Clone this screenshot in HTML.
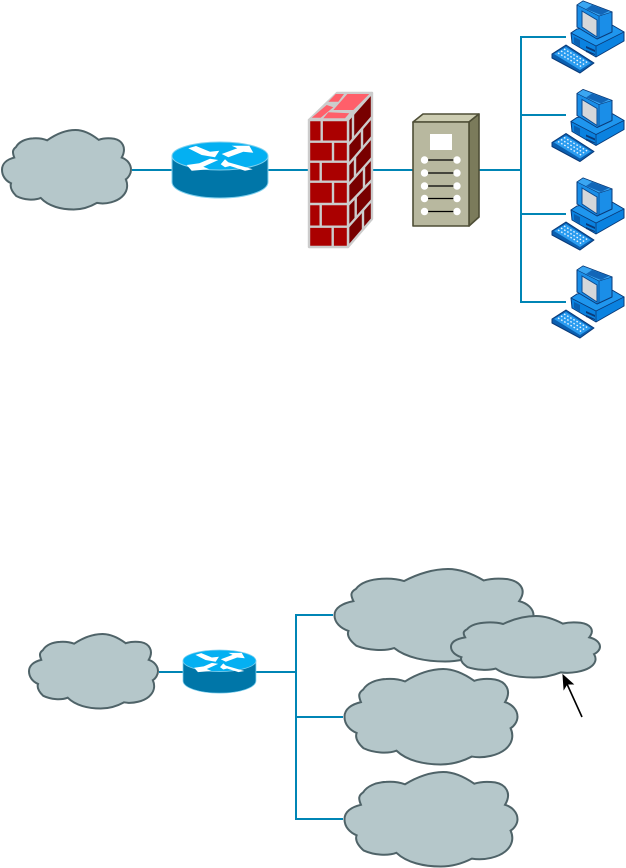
<!DOCTYPE html>
<html>
<head>
<meta charset="utf-8">
<style>
html,body{margin:0;padding:0;background:#fff;}
svg{display:block;position:absolute;left:0;top:0;}
</style>
</head>
<body>
<svg width="626" height="868" viewBox="0 0 626 868" xmlns="http://www.w3.org/2000/svg">
<defs>
  <path id="c" vector-effect="non-scaling-stroke" fill="#b5c7ca" stroke="#4f6368" stroke-width="2" d="M9.5,34.7 C8,28 8,25 10.8,21.5 C13,15 18,11 24,10.5 C28,10 32,11 35,13 C42,5 50,0 57,0 C64,0 70,6 75,12.4 C79,10 83,10 87,11 C93,13 97,22 92.8,34.7 C97,37 100,43 100,50 C100,55 98,60 96,62 C98,70 97,78 93,84 C89,90 81,94 73.6,91.7 C68,97 62,100 55.6,100 C46,100 36,96 30,85.5 C25,89 17,88 11,83 C8,78 6,72 7,67 C3,64 0,58 0,50 C0,42 4,37 9.5,34.7 Z"/>
  <g id="r">
    <path d="M0,14 V40 C0,49 21,56 48,56 C75,56 96,49 96,40 V14 Z" fill="#0076a8" stroke="#7fd0ee" stroke-width="1"/>
    <ellipse cx="48" cy="14" rx="48" ry="14" fill="#04b0f2" stroke="#7fd0ee" stroke-width="1"/>
    <g fill="#fff">
      <path d="M16.300,6.300 L24,4 L38,9.700 L47.300,8.700 L43,15.300 L29.700,13 Z"/>
      <path d="M49.700,12 L65.300,6.300 L59.700,3.700 L77.300,3.700 L81.300,10.700 L71.300,9.700 L56.300,15.300 Z"/>
      <path d="M14.700,23 L27.300,21.300 L38,16.700 L46.300,18 L31.300,24.700 L37.300,27.300 L19.700,28.700 Z"/>
      <path d="M48.700,22.300 L53,17.300 L56.300,20.300 L80.700,27.300 L73,28.700 L58,24 L53,25.300 Z"/>
    </g>
  </g>
  <g id="p">
    <path d="M571,33 L577,29 L612,25 L624,32 L624,41 L596,57 L572,43 Z" fill="#0a82e0" stroke="#0a3a78" stroke-width="1" stroke-linejoin="round"/>
    <path d="M571,33 L596,46 L624,32 L612,25 L577,29 Z" fill="#1f96ee" stroke="#0a3a78" stroke-width="0.8"/>
    <path d="M596,46 V57" stroke="#0a3a78" stroke-width="0.8"/>
    <path d="M574,37 L580,40 V47 L574,43 Z" fill="#0a5fb0"/>
    <path d="M586,46 L595,50 V52 L586,48 Z M586,50 L595,54 V55 L586,52 Z" fill="#0a3a78"/>
    <path d="M577,5 L583,1 L612,12 L612,32 L597,39 L577,27 Z" fill="#1a8ee8" stroke="#0a3a78" stroke-width="1" stroke-linejoin="round"/>
    <path d="M577,5 L599,16 L612,12 L583,1 Z" fill="#3aa6f2" stroke="#0a3a78" stroke-width="0.6"/>
    <path d="M592,5 L609,11 L601,15 L586,9 Z" fill="#1266b8"/>
    <path d="M582,11 L597,20 V37 L582,27 Z" fill="#d5d7da" stroke="#0c4a90" stroke-width="1"/>
    <path d="M599,16 V38" stroke="#0a3a78" stroke-width="0.6"/>
    <path d="M552,54 L566,45 L594,63 L580,73 L552,58 Z" fill="#0a5fb0" stroke="#0a3a78" stroke-width="1" stroke-linejoin="round"/>
    <path d="M554,54 L566,47 L591,63 L580,70 Z" fill="#2a9cf0"/>
    <g stroke="#e8f4ff" stroke-width="1.4" stroke-dasharray="1.6 2">
      <path d="M558,53 L582,67"/>
      <path d="M561,51 L585,65"/>
      <path d="M564,49 L588,63"/>
    </g>
  </g>
</defs>

<!-- connectors -->
<g stroke="#0085b5" stroke-width="2" fill="none">
  <path d="M132,170 H172 M268,170 H309 M372,170 H414 M479,170 H521"/>
  <path d="M566,37 H521 V302 H566 M521,115 H566 M521,214 H566"/>
  <path d="M159,672 H183 M256,672 H296"/>
  <path d="M333,615 H296 V819 H343 M296,717 H343"/>
</g>

<!-- top cloud -->
<use href="#c" transform="translate(2,130) scale(1.290,0.795)"/>
<!-- top router -->
<use href="#r" transform="translate(172,142)"/>

<!-- firewall -->
<g stroke="#cccccc" stroke-width="2.400" stroke-linejoin="round">
  <path d="M309,120 L337,93 H372 L348,120 Z" fill="#cccccc"/>
  <path d="M348,120 L372,93 V219 L348,247 Z" fill="#780000"/>
  <path d="M309,120 H348 V247 H309 Z" fill="#aa0000"/>
  <g fill="none">
    <path d="M309,141.700 H348 M309,161.700 H348 M309,181.700 H348 M309,204 H348 M309,226.700 H348"/>
    <path d="M321.700,120 V141.700 M333,141.700 V161.700 M320.700,161.700 V181.700 M333,181.700 V204 M320.700,204 V226.700 M332.700,226.700 V247"/>
    <path d="M348,145 L372,117 M348,165 L372,137 M348,185 L372,158 M348,205 L372,180 M348,227 L372,200"/>
    <path d="M353,114.400 V139.200 M362,128.700 V148.700 M355,156.800 V177.100 M364,167 V188.300 M355.700,197 V218.300 M363,210 V229.500"/>
  </g>
  <g fill="#ff5f6a" stroke="none">
    <path d="M311.700,117.700 L326.700,105 L333.300,107.300 L320.700,117.700 Z"/>
    <path d="M333.300,110 L347.300,94 H369.300 L353.300,110 Z"/>
    <path d="M323.300,118.300 L328.300,112.300 L349.300,113.300 L345,118.300 Z"/>
    <path d="M328.300,101.700 L335.700,94 H344 L338.300,101.700 Z"/>
  </g>
</g>

<!-- server -->
<g stroke="#4e4e36" stroke-width="1.600" stroke-linejoin="round">
  <path d="M413,122 L423,114 H479 L469,122 Z" fill="#cdcdb2"/>
  <path d="M469,122 L479,114 V217 L469,226 Z" fill="#7b7b5b"/>
  <path d="M413,122 H469 V226 H413 Z" fill="#b8b89f"/>
</g>
<rect x="430" y="134" width="22" height="16" fill="#fff"/>
<g stroke="#000" stroke-width="1.300"><path d="M425,160 H457 M425,173 H457 M425,186 H457 M425,198.500 H457 M425,211.500 H457"/></g>
<g fill="#fff">
  <circle cx="424.500" cy="160" r="3.700"/><circle cx="457" cy="160" r="3.700"/>
  <circle cx="424.500" cy="173" r="3.700"/><circle cx="457" cy="173" r="3.700"/>
  <circle cx="424.500" cy="186" r="3.700"/><circle cx="457" cy="186" r="3.700"/>
  <circle cx="424.500" cy="198.500" r="3.700"/><circle cx="457" cy="198.500" r="3.700"/>
  <circle cx="424.500" cy="211.500" r="3.700"/><circle cx="457" cy="211.500" r="3.700"/>
</g>

<!-- computers -->
<use href="#p"/>
<use href="#p" transform="translate(0,88.500)"/>
<use href="#p" transform="translate(0,177)"/>
<use href="#p" transform="translate(0,265)"/>

<!-- bottom -->
<use href="#c" transform="translate(29,634) scale(1.290,0.745)"/>
<use href="#r" transform="translate(183,650) scale(0.76,0.77)"/>
<use href="#c" transform="translate(334.500,569) scale(1.990,0.925)"/>
<use href="#c" transform="translate(451,616) scale(1.490,0.615)"/>
<use href="#c" transform="translate(344.500,669) scale(1.730,0.955)"/>
<use href="#c" transform="translate(344.500,772) scale(1.730,0.945)"/>

<!-- arrow -->
<path d="M582,717 L567,684" stroke="#000" stroke-width="1.600" fill="none"/>
<path d="M563,675 L573,684 L567,684 L564,689 Z" fill="#000" stroke="#000" stroke-width="1"/>
</svg>
</body>
</html>
